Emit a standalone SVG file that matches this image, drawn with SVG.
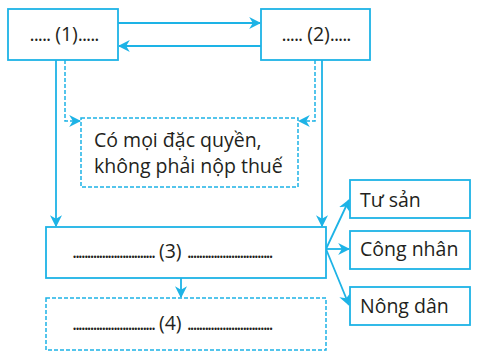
<svg xmlns="http://www.w3.org/2000/svg" width="498" height="363" viewBox="0 0 498 363">
<defs>
<marker id="ahs" viewBox="0 0 10 10" refX="9" refY="5" markerWidth="12" markerHeight="12" orient="auto" markerUnits="userSpaceOnUse">
<path d="M0,0 L10,5 L0,10 L3,5 z" fill="#1db3e6"/>
</marker>
<style>
.box{fill:#fff;stroke:#1db3e6;stroke-width:1.8}
.dbox{fill:#fff;stroke:#1db3e6;stroke-width:1.5;stroke-dasharray:4 2}
.ln{fill:none;stroke:#1db3e6;stroke-width:1.8}
.dl{fill:none;stroke:#1db3e6;stroke-width:1.5;stroke-dasharray:4 2}
.t{font-family:"Open Sans","Noto Sans",sans-serif;font-size:19.5px;fill:#231f20}
.d{letter-spacing:-2.2px}
.d5{letter-spacing:-1px}
</style>
</defs>
<rect width="498" height="363" fill="#fff"/>
<g id="connectors">
<line class="ln" x1="118" y1="23" x2="260" y2="23" marker-end="url(#ahs)"/>
<line class="ln" x1="261" y1="46" x2="119" y2="46" marker-end="url(#ahs)"/>
<line class="ln" x1="56" y1="60" x2="56" y2="226" marker-end="url(#ahs)"/>
<line class="ln" x1="322" y1="60" x2="322" y2="226" marker-end="url(#ahs)"/>
<polyline class="dl" points="65,60 65,121 80,121" marker-end="url(#ahs)"/>
<polyline class="dl" points="315,60 315,121 299,121" marker-end="url(#ahs)"/>
<line class="ln" x1="181" y1="278" x2="181" y2="297" marker-end="url(#ahs)"/>
<line class="ln" x1="326" y1="249" x2="349" y2="200" marker-end="url(#ahs)"/>
<line class="ln" x1="326" y1="249" x2="349" y2="249" marker-end="url(#ahs)"/>
<line class="ln" x1="326" y1="249" x2="349" y2="305" marker-end="url(#ahs)"/>
</g>
<g id="node1">
<rect class="box" x="8" y="9" width="110" height="51"/>
<text class="t" x="64" y="41" text-anchor="middle"><tspan class="d5">.....</tspan> (1)<tspan class="d5">.....</tspan></text>
</g>
<g id="node2">
<rect class="box" x="261" y="9" width="109" height="51"/>
<text class="t" x="316" y="41" text-anchor="middle"><tspan class="d5">.....</tspan> (2)<tspan class="d5">.....</tspan></text>
</g>
<g id="node-privilege">
<rect class="dbox" x="81" y="118" width="217" height="69"/>
<text class="t" x="94" y="147">Có mọi đặc quyền,</text>
<text class="t" x="94" y="173">không phải nộp thuế</text>
</g>
<g id="node3">
<rect class="box" x="46" y="227" width="280" height="51"/>
<text class="t" x="72" y="258"><tspan class="d">............................</tspan> (3) <tspan class="d">.............................</tspan></text>
</g>
<g id="node4">
<rect class="dbox" x="46" y="298" width="280" height="52"/>
<text class="t" x="72" y="330"><tspan class="d">............................</tspan> (4) <tspan class="d">.............................</tspan></text>
</g>
<g id="node-tusan">
<rect class="box" x="350" y="180" width="120" height="38"/>
<text class="t" x="360" y="207">Tư sản</text>
</g>
<g id="node-congnhan">
<rect class="box" x="350" y="231" width="120" height="38"/>
<text class="t" x="360" y="256">Công nhân</text>
</g>
<g id="node-nongdan">
<rect class="box" x="350" y="287" width="120" height="38"/>
<text class="t" x="360" y="313">Nông dân</text>
</g>
</svg>
